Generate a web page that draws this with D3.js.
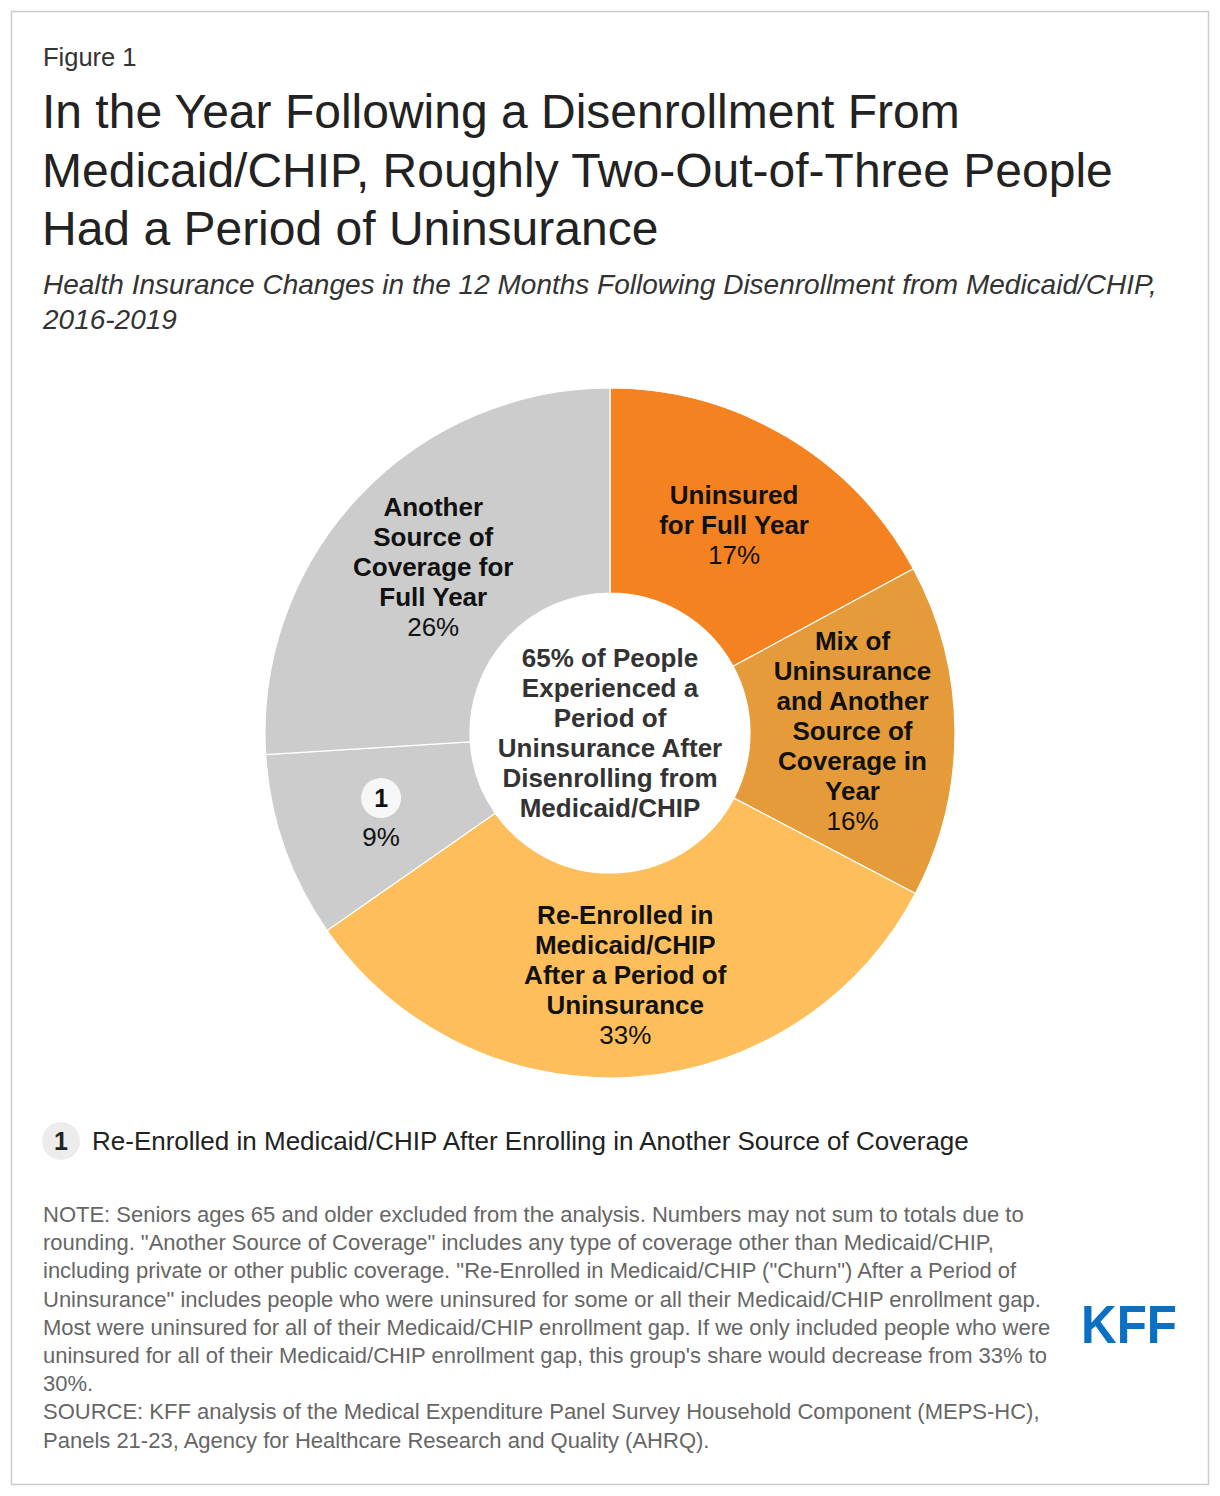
<!DOCTYPE html>
<html><head><meta charset="utf-8">
<script src="https://cdn.jsdelivr.net/npm/d3@7"></script>
<style>
body{margin:0;background:#fff;}
svg text{font-family:"Liberation Sans",Arial,sans-serif;}
</style></head>
<body><svg id="chart" width="1220" height="1496"></svg>
<script>
const categories = ["Uninsured for Full Year", "Mix of Uninsurance and Another Source of Coverage in Year", "Re-Enrolled in Medicaid/CHIP After a Period of Uninsurance", "1", "Another Source of Coverage for Full Year"];
const values = [17.1, 15.6, 32.6, 8.7, 26.0];
const valueLabels = ["17%", "16%", "33%", "9%", "26%"];
const labelLines = [["Uninsured","for Full Year"],["Mix of","Uninsurance","and Another","Source of","Coverage in","Year"],["Re-Enrolled in","Medicaid/CHIP","After a Period of","Uninsurance"],[],["Another","Source of","Coverage for","Full Year"]];
const colors = ["#F58220","#E59B3A","#FDBE5B","#CCCCCC","#CCCCCC"];
const centerLines = ["65% of People","Experienced a","Period of","Uninsurance After","Disenrolling from","Medicaid/CHIP"];
const noteLines = [
"NOTE: Seniors ages 65 and older excluded from the analysis. Numbers may not sum to totals due to",
"rounding. \"Another Source of Coverage\" includes any type of coverage other than Medicaid/CHIP,",
"including private or other public coverage. \"Re-Enrolled in Medicaid/CHIP (\"Churn\") After a Period of",
"Uninsurance\" includes people who were uninsured for some or all their Medicaid/CHIP enrollment gap.",
"Most were uninsured for all of their Medicaid/CHIP enrollment gap. If we only included people who were",
"uninsured for all of their Medicaid/CHIP enrollment gap, this group's share would decrease from 33% to",
"30%.",
"SOURCE: KFF analysis of the Medical Expenditure Panel Survey Household Component (MEPS-HC),",
"Panels 21-23, Agency for Healthcare Research and Quality (AHRQ)."];

const svg = d3.select("#chart");
svg.append("rect").attr("x",11.5).attr("y",11.5).attr("width",1197).attr("height",1473).attr("fill","#fff").attr("stroke","#ccc").attr("stroke-width",1.5);

svg.append("text").attr("x",43).attr("y",66).attr("font-size",25.5).attr("fill","#333").text("Figure 1");
["In the Year Following a Disenrollment From","Medicaid/CHIP, Roughly Two-Out-of-Three People","Had a Period of Uninsurance"].forEach((t,i)=>{
  svg.append("text").attr("x",42).attr("y",128+i*58.5).attr("font-size",48).attr("fill","#222").text(t);
});
["Health Insurance Changes in the 12 Months Following Disenrollment from Medicaid/CHIP,","2016-2019"].forEach((t,i)=>{
  svg.append("text").attr("x",43).attr("y",294+i*35).attr("font-size",28).attr("font-style","italic").attr("fill","#333").text(t);
});

const cx=610, cy=733, rOut=345, rIn=140;
const g = svg.append("g").attr("transform",`translate(${cx},${cy})`);
const pie = d3.pie().sort(null).value(d=>d);
const arcs = pie(values);
const arc = d3.arc().innerRadius(rIn).outerRadius(rOut);
g.selectAll("path").data(arcs).join("path").attr("d",arc).attr("fill",(d,i)=>colors[i]).attr("stroke","#fff").attr("stroke-width",1.2);

const lh=30, fs=26;
arcs.forEach((a,i)=>{
  const [x,y]=arc.centroid(a);
  if(i===3){
    g.append("circle").attr("cx",x).attr("cy",y-15).attr("r",20).attr("fill","#f7f7f7");
    g.append("text").attr("x",x).attr("y",y-6).attr("text-anchor","middle").attr("font-size",25).attr("font-weight","bold").attr("fill","#111").text(categories[i]);
    g.append("text").attr("x",x).attr("y",y+33).attr("text-anchor","middle").attr("font-size",fs).attr("fill","#111").text(valueLabels[i]);
    return;
  }
  const lines = labelLines[i].concat([valueLabels[i]]);
  const n = lines.length;
  lines.forEach((t,j)=>{
    g.append("text").attr("x",x).attr("y",y+(j-(n-1)/2)*lh+9).attr("text-anchor","middle")
     .attr("font-size",fs).attr("font-weight", j<n-1?"bold":"normal").attr("fill","#111").text(t);
  });
});
centerLines.forEach((t,j)=>{
  const n=centerLines.length;
  g.append("text").attr("x",0).attr("y",(j-(n-1)/2)*lh+9).attr("text-anchor","middle").attr("font-size",fs).attr("font-weight","bold").attr("fill","#333").text(t);
});

svg.append("circle").attr("cx",61).attr("cy",1141).attr("r",19).attr("fill","#ececec");
svg.append("text").attr("x",61).attr("y",1150).attr("text-anchor","middle").attr("font-size",25).attr("font-weight","bold").attr("fill","#222").text("1");
svg.append("text").attr("x",92).attr("y",1150).attr("font-size",26).attr("fill","#222").text("Re-Enrolled in Medicaid/CHIP After Enrolling in Another Source of Coverage");

noteLines.forEach((t,i)=>{
  svg.append("text").attr("x",43).attr("y",1222+i*28.2).attr("font-size",22).attr("fill","#666").text(t);
});
svg.append("text").attr("x",1081).attr("y",1343).attr("font-size",53).attr("font-weight","bold").attr("fill","#0A70C4")
  .attr("textLength",96).attr("lengthAdjust","spacingAndGlyphs").text("KFF");
</script></body></html>
